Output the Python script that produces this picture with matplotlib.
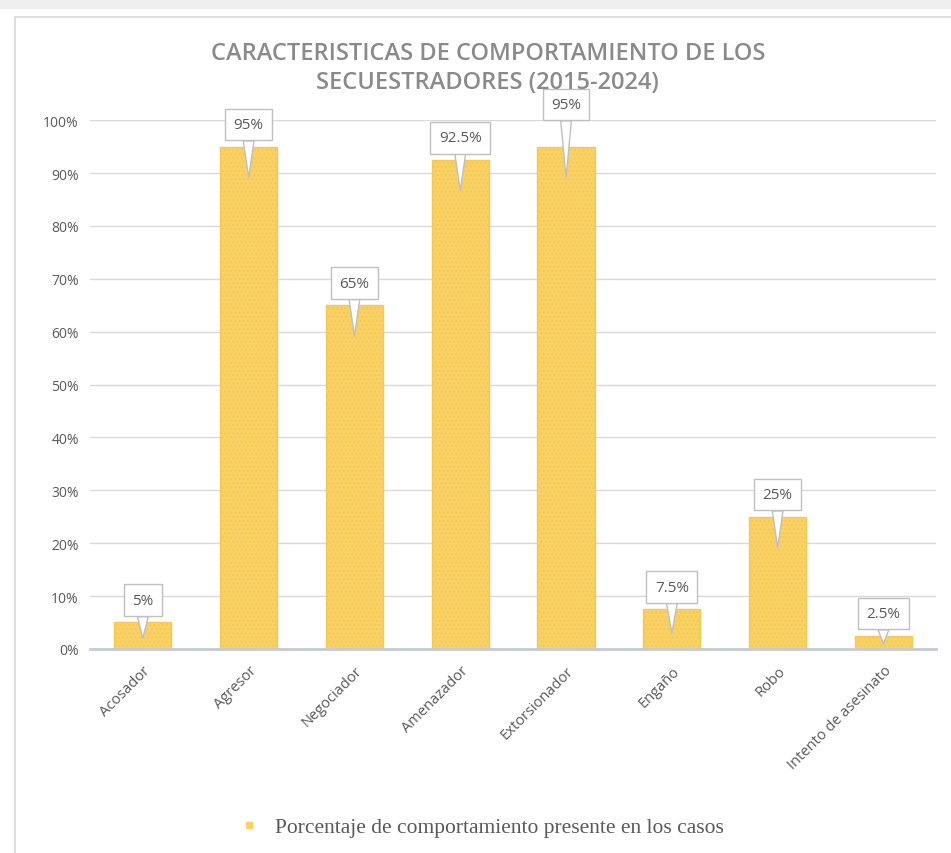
import numpy as np
import matplotlib
matplotlib.use("Agg")
import matplotlib.pyplot as plt
from matplotlib.patches import Rectangle
from matplotlib.lines import Line2D

categories = ["Acosador", "Agresor", "Negociador", "Amenazador", "Extorsionador",
              "Engaño", "Robo", "Intento de asesinato"]
values = [0.05, 0.95, 0.65, 0.925, 0.95, 0.075, 0.25, 0.025]
labels = ["5%", "95%", "65%", "92.5%", "95%", "7.5%", "25%", "2.5%"]
yticks = [0, 0.1, 0.2, 0.3, 0.4, 0.5, 0.6, 0.7, 0.8, 0.9, 1.0]
series_name = "Porcentaje de comportamiento presente en los casos"

BAR = "#F9D167"
GRAY_TXT = "#595959"

plt.rcParams["hatch.color"] = "#FBDC8A"

fig = plt.figure(figsize=(9.51, 8.54), dpi=100)
fig.patch.set_facecolor("white")
ax = fig.add_axes([0.0946, 0.239, 0.890, 0.619])

# light grey band at the very top and the chart frame
fig.patches.append(Rectangle((0, 1 - 10 / 854), 1, 10 / 854, transform=fig.transFigure,
                             facecolor="#EFEFEF", edgecolor="none"))
fig.patches.append(Rectangle((15 / 951, -0.02), 1.0, 1 - 18 / 854 + 0.02,
                             transform=fig.transFigure, fill=False,
                             edgecolor="#D9D9D9", linewidth=1.2))

x = np.arange(len(categories))
ax.bar(x, values, width=0.54, color=BAR, edgecolor="#F6C94E", linewidth=1.0,
       hatch="....", zorder=3)

ax.set_xlim(-0.5, len(categories) - 0.5)
ax.set_ylim(0, 1.0)
ax.set_yticks(yticks)
ax.set_yticklabels([f"{int(round(t * 100))}%" for t in yticks],
                   fontsize=10, color=GRAY_TXT, family="Open Sans")
ax.set_xticks(x)
ax.set_xticklabels(categories, rotation=45, ha="right", rotation_mode="anchor",
                   fontsize=10.5, color=GRAY_TXT, family="Open Sans")
ax.tick_params(length=0, pad=8)
ax.tick_params(axis="x", pad=10)
ax.grid(axis="y", color="#D9D9D9", linewidth=1.0, zorder=0)
for s in ["top", "right", "left"]:
    ax.spines[s].set_visible(False)
ax.spines["bottom"].set_color("#C5CAD6")
ax.spines["bottom"].set_linewidth(2.0)
ax.spines["bottom"].set_zorder(4)

# callout data labels
for i, (v, lab) in enumerate(zip(values, labels)):
    lift = 0.08 if i == 4 else 0.042
    tip = v - min(0.058, v * 0.6)
    ax.annotate(lab, xy=(i, tip), xytext=(i, v + lift), ha="center", va="center",
                fontsize=11, color=GRAY_TXT, family="Open Sans", zorder=5,
                annotation_clip=False,
                bbox=dict(boxstyle="square,pad=0.55", fc="white", ec="#BFBFBF", lw=1),
                arrowprops=dict(arrowstyle="wedge,tail_width=0.7", fc="white",
                                ec="#BFBFBF", lw=1, shrinkA=0, shrinkB=0))

fig.text(0.513, 0.92, "CARACTERISTICAS DE COMPORTAMIENTO DE LOS\nSECUESTRADORES (2015-2024)",
         ha="center", va="center", fontsize=17, fontweight="semibold", color="#8A8A8A",
         family="Open Sans", linespacing=1.3)

handle = Line2D([], [], marker="s", linestyle="none", markersize=5,
                markerfacecolor=BAR, markeredgecolor=BAR)
leg = fig.legend([handle], [series_name], loc="center", bbox_to_anchor=(0.50, 0.03),
                 frameon=False, handletextpad=0.2,
                 prop={"family": "Liberation Serif", "size": 15.5})
for t in leg.get_texts():
    t.set_color(GRAY_TXT)

fig.savefig("out.png", dpi=100)
